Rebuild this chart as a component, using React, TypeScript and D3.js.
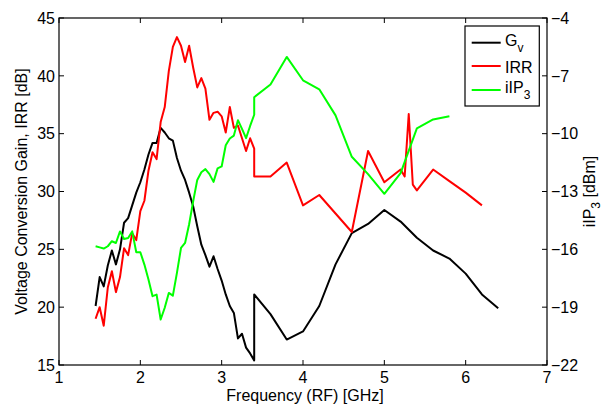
import * as d3 from "d3";

// Frequencies (GHz): two measurement sets joined at 3.4 GHz
const gvFreq = [
  1.45, 1.5, 1.55, 1.6, 1.65, 1.7, 1.75, 1.8, 1.85, 1.9, 1.95, 2.0, 2.05, 2.1, 2.15, 2.2, 2.25, 2.3, 2.35, 2.4,
  2.45, 2.5, 2.55, 2.6, 2.65, 2.7, 2.75, 2.8, 2.85, 2.9, 2.95, 3.0, 3.05, 3.1, 3.15, 3.2, 3.25, 3.3, 3.35, 3.4,
  3.4, 3.6, 3.8, 4.0, 4.2, 4.4, 4.6, 4.8, 5.0, 5.2, 5.4, 5.6, 5.8, 6.0, 6.2, 6.4,
];
const gvValues = [
  20.1, 22.6, 21.8, 23.6, 24.9, 23.7, 25.0, 27.3, 27.7, 28.8, 29.9, 30.8, 31.9, 33.2, 34.2, 34.2, 35.5, 35.1, 34.6, 34.4,
  32.9, 31.8, 31.0, 29.9, 28.7, 27.0, 25.4, 24.5, 23.5, 24.4, 23.3, 22.3, 21.1, 20.1, 19.5, 17.3, 17.7, 16.5, 16.0, 15.4,
  21.1, 19.4, 17.2, 17.9, 20.1, 23.7, 26.4, 27.2, 28.4, 27.4, 26.0, 24.9, 24.2, 22.9, 21.1, 19.9,
];

const irrFreq = [
  1.45, 1.5, 1.55, 1.6, 1.65, 1.7, 1.75, 1.8, 1.85, 1.9, 1.95, 2.0, 2.05, 2.1, 2.15, 2.2, 2.25, 2.3, 2.35, 2.4,
  2.45, 2.5, 2.55, 2.6, 2.65, 2.7, 2.75, 2.8, 2.85, 2.9, 2.95, 3.0, 3.05, 3.1, 3.15, 3.2, 3.25, 3.3, 3.35, 3.4,
  3.4, 3.6, 3.8, 4.0, 4.2, 4.4, 4.6, 4.8, 5.0, 5.2, 5.25, 5.3, 5.35, 5.4, 5.6, 5.8, 6.0, 6.2,
];
const irrValues = [
  19.0, 20.0, 18.4, 21.7, 23.1, 21.3, 22.6, 25.1, 24.5, 26.4, 25.8, 28.3, 29.2, 31.8, 33.4, 32.8, 36.0, 37.3, 40.4, 42.5,
  43.35, 42.6, 41.2, 42.6, 40.7, 39.0, 39.8, 38.9, 36.2, 36.8, 36.9, 36.5, 35.1, 37.3, 35.5, 35.7, 34.6, 33.5, 34.6, 33.7,
  31.3, 31.3, 32.5, 28.8, 29.7, 28.1, 26.5, 33.5, 30.8, 31.9, 31.3, 36.7, 30.6, 30.1, 31.9, 30.9, 29.9, 28.8,
];

const iip3Freq = [
  1.45, 1.5, 1.55, 1.6, 1.65, 1.7, 1.75, 1.8, 1.85, 1.9, 1.95, 2.0, 2.05, 2.1, 2.15, 2.2, 2.25, 2.3, 2.35, 2.4,
  2.45, 2.5, 2.55, 2.6, 2.65, 2.7, 2.75, 2.8, 2.85, 2.9, 2.95, 3.0, 3.05, 3.1, 3.15, 3.2, 3.25, 3.3, 3.35, 3.4,
  3.4, 3.6, 3.8, 4.0, 4.2, 4.4, 4.6, 4.8, 5.0, 5.2, 5.4, 5.6, 5.8,
];
const iip3Values = [
  -15.84, -15.9, -15.96, -15.84, -15.58, -15.67, -15.07, -15.46, -15.41, -15.07, -16.15, -16.15, -16.79, -17.57, -18.43, -18.35, -19.64, -19.03, -18.26, -18.4,
  -17.22, -15.93, -15.67, -14.7, -13.5, -12.4, -12.0, -11.84, -12.1, -12.5, -11.8, -11.7, -10.6, -10.25, -10.1, -9.3, -9.75, -10.23, -9.6, -9.02,
  -8.11, -7.45, -6.02, -7.23, -7.7, -9.05, -11.2, -12.1, -13.12, -12.05, -9.73, -9.26, -9.1,
];

const xTicks = [1, 2, 3, 4, 5, 6, 7];
const leftTicks = [15, 20, 25, 30, 35, 40, 45];
const rightTicks = [-22, -19, -16, -13, -10, -7, -4];

const FONT = "'Liberation Sans', Arial, Helvetica, sans-serif";

export default function App() {
  const width = 616;
  const height = 409;
  const plot = { left: 59, right: 547, top: 18, bottom: 365 };

  const x = d3.scaleLinear().domain([1, 7]).range([plot.left, plot.right]);
  const yL = d3.scaleLinear().domain([15, 45]).range([plot.bottom, plot.top]);
  const yR = d3.scaleLinear().domain([-22, -4]).range([plot.bottom, plot.top]);

  const lineL = d3.line<[number, number]>().x((d) => x(d[0])).y((d) => yL(d[1]));
  const lineR = d3.line<[number, number]>().x((d) => x(d[0])).y((d) => yR(d[1]));

  const gv = gvFreq.map((f, i) => [f, gvValues[i]] as [number, number]);
  const irr = irrFreq.map((f, i) => [f, irrValues[i]] as [number, number]);
  const iip3 = iip3Freq.map((f, i) => [f, iip3Values[i]] as [number, number]);

  const tick = 5;
  const fs = 16;

  const legend = [
    { color: "#000000", y: 42.7, label: "G", sub: "v" },
    { color: "#ff0000", y: 66, label: "IRR", sub: "" },
    { color: "#00ff00", y: 90, label: "iIP", sub: "3" },
  ];

  return (
    <svg
      width={width}
      height={height}
      style={{ position: "absolute", left: 0, top: 0, background: "#fff" }}
      fontFamily={FONT}
    >
      <rect x={0} y={0} width={width} height={height} fill="#fff" />

      {/* data lines */}
      <path d={lineL(gv) ?? ""} fill="none" stroke="#000000" strokeWidth={2} strokeLinejoin="round" />
      <path d={lineL(irr) ?? ""} fill="none" stroke="#ff0000" strokeWidth={2} strokeLinejoin="round" />
      <path d={lineR(iip3) ?? ""} fill="none" stroke="#00ff00" strokeWidth={2} strokeLinejoin="round" />

      {/* frame */}
      <rect
        x={plot.left}
        y={plot.top}
        width={plot.right - plot.left}
        height={plot.bottom - plot.top}
        fill="none"
        stroke="#000"
        strokeWidth={1.2}
      />

      {/* x ticks */}
      {xTicks.map((t) => (
        <g key={"x" + t}>
          <line x1={x(t)} x2={x(t)} y1={plot.bottom} y2={plot.bottom - tick} stroke="#000" />
          <line x1={x(t)} x2={x(t)} y1={plot.top} y2={plot.top + tick} stroke="#000" />
          <text x={x(t)} y={383} textAnchor="middle" fontSize={fs} fill="#000">
            {t}
          </text>
        </g>
      ))}

      {/* left ticks */}
      {leftTicks.map((t) => (
        <g key={"l" + t}>
          <line x1={plot.left} x2={plot.left + tick} y1={yL(t)} y2={yL(t)} stroke="#000" />
          <text x={55} y={yL(t)} dy="0.36em" textAnchor="end" fontSize={fs} fill="#000">
            {t}
          </text>
        </g>
      ))}

      {/* right ticks */}
      {rightTicks.map((t) => (
        <g key={"r" + t}>
          <line x1={plot.right} x2={plot.right - tick} y1={yR(t)} y2={yR(t)} stroke="#000" />
          <text x={551} y={yR(t)} dy="0.36em" textAnchor="start" fontSize={fs} fill="#000">
            {"\u2212" + Math.abs(t)}
          </text>
        </g>
      ))}

      {/* axis titles */}
      <text x={(plot.left + plot.right) / 2 + 2} y={401} textAnchor="middle" fontSize={fs} fill="#000">
        Frequency (RF) [GHz]
      </text>
      <text
        transform={`translate(27,${(plot.top + plot.bottom) / 2}) rotate(-90)`}
        textAnchor="middle"
        fontSize={fs}
        fill="#000"
      >
        Voltage Conversion Gain, IRR [dB]
      </text>
      <text
        transform={`translate(595,${(plot.top + plot.bottom) / 2}) rotate(-90)`}
        textAnchor="middle"
        fontSize={fs}
        fill="#000"
      >
        iIP
        <tspan dy={5} fontSize={12}>
          3
        </tspan>
        <tspan dy={-5}> [dBm]</tspan>
      </text>

      {/* legend */}
      <rect x={465} y={26} width={74.3} height={80} fill="#fff" stroke="#000" strokeWidth={1.2} />
      {legend.map((l) => (
        <g key={l.label}>
          <line x1={471.7} x2={500.7} y1={l.y} y2={l.y} stroke={l.color} strokeWidth={2} />
          <text x={505} y={l.sub ? l.y + 3 : l.y + 6.5} fontSize={fs} fill="#000">
            {l.label}
            {l.sub && (
              <tspan dy={6} fontSize={12}>
                {l.sub}
              </tspan>
            )}
          </text>
        </g>
      ))}
    </svg>
  );
}
